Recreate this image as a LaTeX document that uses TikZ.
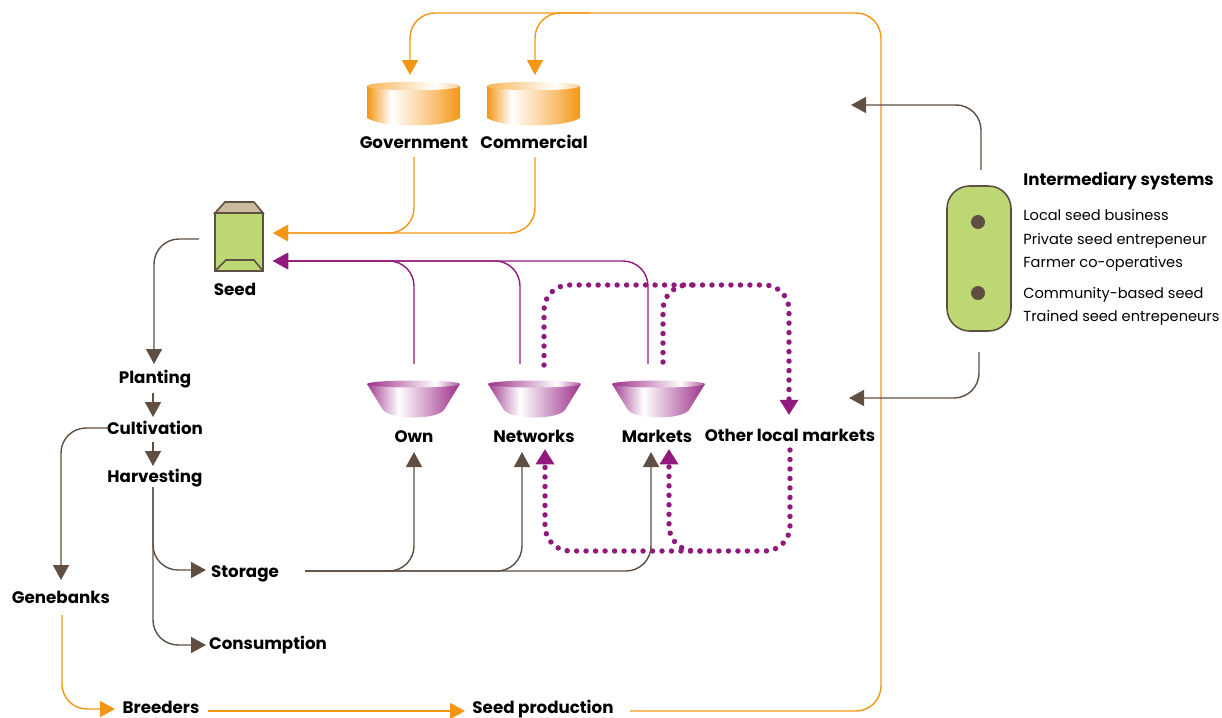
\documentclass[tikz,border=0pt]{standalone}
\usepackage{fontspec}
\setmainfont{Poppins}
\usetikzlibrary{arrows.meta}
\definecolor{canorange}{RGB}{244,150,20}
\definecolor{seedpurple}{RGB}{145,25,125}
\definecolor{soilbrown}{RGB}{95,78,66}
\definecolor{packgreen}{RGB}{189,215,116}
\definecolor{flaptan}{RGB}{203,186,155}
\pgfdeclarehorizontalshading{canshade}{100bp}{color(0bp)=(canorange); color(25bp)=(canorange); color(38bp)=(white); color(60bp)=(canorange!55); color(75bp)=(canorange); color(100bp)=(canorange)}
\pgfdeclarehorizontalshading{canlid}{100bp}{color(0bp)=(canorange!70); color(25bp)=(canorange!70); color(62bp)=(white); color(75bp)=(canorange!45); color(100bp)=(canorange!45)}
\pgfdeclarehorizontalshading{bowlshade}{100bp}{color(0bp)=(seedpurple!85); color(25bp)=(seedpurple!85); color(42bp)=(white); color(75bp)=(seedpurple!90); color(100bp)=(seedpurple!90)}
\pgfdeclarehorizontalshading{bowllid}{100bp}{color(0bp)=(seedpurple!90); color(25bp)=(seedpurple!90); color(62bp)=(white); color(75bp)=(seedpurple!75); color(100bp)=(seedpurple!75)}
\tikzset{
  flowline/.style={line width=.8pt, rounded corners=.5cm, -{Triangle[length=.3cm,width=.32cm]}},
  orangeline/.style={flowline, draw=canorange},
  purpleline/.style={flowline, draw=seedpurple},
  brownline/.style={flowline, draw=soilbrown},
  dotline/.style={flowline, draw=seedpurple, line width=3.1pt, line cap=round,
    dash pattern=on 0pt off 5.4pt, -{Triangle[length=.3cm,width=.38cm,line width=0pt,sep=-1pt]}},
  place/.style={inner sep=0pt, text height=9.4pt, text depth=2.2pt, font=\bfseries\fontsize{9.5}{11}\selectfont, text=black},
  plain/.style={inner sep=0pt, anchor=west, text height=9pt, text depth=2.2pt, font=\fontsize{8.3}{10}\selectfont, text=black},
  dot/.style={circle, fill=soilbrown, minimum size=.28cm, inner sep=0pt}
}
\newcommand{\seedcan}[1]{
  \begin{scope}[shift={(#1,0)}]
    \shade[shading=canshade] (0,86) -- (0,118) .. controls (15,128) and (78,128) .. (93,118) -- (93,86) -- cycle;
    \shade[shading=canlid] (46.5,86) ellipse [x radius=.93cm, y radius=.085cm];
  \end{scope}
}
\newcommand{\seedbowl}[1]{
  \begin{scope}[shift={(#1,0)}]
    \shade[shading=bowlshade] (0,384) -- (16,410) .. controls (24,420) and (69,420) .. (77,410) -- (93,384) -- cycle;
    \shade[shading=bowllid] (46.5,384) ellipse [x radius=.93cm, y radius=.07cm];
  \end{scope}
}
\begin{document}
\begin{tikzpicture}[x=.02cm, y=-.02cm]
    \useasboundingbox (0,0) rectangle (1222,717);

    % stores and bowls
    \seedcan{367}
    \seedcan{487}
    \seedbowl{367}
    \seedbowl{488}
    \seedbowl{612}

    % seed packet
    \draw[soilbrown, line width=.9pt, fill=packgreen] (215,213) rectangle (263,271);
    \draw[soilbrown, line width=.9pt, fill=flaptan] (215,213) -- (225,202) -- (254,202) -- (263,213) -- cycle;
    \draw[soilbrown, line width=.9pt] (215,271) -- (226,260) -- (254,260) -- (263,271);
    \node[inner sep=0pt, minimum width=.96cm, minimum height=1.38cm] (packet) at (239,236.5) {};

    % labels
    \node[place] (government) at (414,142) {Government};
    \node[place] (commercial) at (534,142) {Commercial};
    \node[place] (seed) at (235,289) {Seed};
    \node[place] (planting) at (155,377) {Planting};
    \node[place] (cultivation) at (155,428) {Cultivation};
    \node[place] (harvesting) at (155,476) {Harvesting};
    \node[place] (storage) at (245,571) {Storage};
    \node[place] (consumption) at (268,643) {Consumption};
    \node[place] (genebanks) at (61,597) {Genebanks};
    \node[place] (breeders) at (161,707) {Breeders};
    \node[place] (production) at (543,707) {Seed production};
    \node[place] (own) at (414,436) {Own};
    \node[place] (networks) at (534,436) {Networks};
    \node[place] (markets) at (657,436) {Markets};
    \node[place] (otherlocal) at (790,435) {Other local markets};

    % intermediary box
    \node[draw=soilbrown, line width=.9pt, fill=packgreen, rounded corners=.45cm,
          minimum width=1.28cm, minimum height=2.9cm, inner sep=0pt] (intermediary) at (979,258.5) {};
    \node[dot] (dotone) at (978,222) {};
    \node[dot] (dottwo) at (978,293) {};
    \node[place, anchor=west] (systems) at (1023,179) {Intermediary systems};
    \node[plain] (business) at (1023,215) {Local seed business};
    \node[plain] (private) at (1023,239) {Private seed entrepeneur};
    \node[plain] (farmer) at (1023,262) {Farmer co-operatives};
    \node[plain] (community) at (1023,293) {Community-based seed};
    \node[plain] (trained) at (1023,316) {Trained seed entrepeneurs};

    % line ends
    \coordinate (prodout) at (630,711);
    \coordinate (topright) at (881,13);
    \coordinate (govin) at (410,75);
    \coordinate (comfork) at (590,13);
    \coordinate (comin) at (535,75);
    \coordinate (govout) at (414,157);
    \coordinate (comout) at (535,157);
    \coordinate (packorange) at (273,233);
    \coordinate (packpurple) at (273,261);
    \coordinate (ownout) at (414,364);
    \coordinate (netout) at (520,364);
    \coordinate (markout) at (648,364);
    \coordinate (ownin) at (414,452);
    \coordinate (netin) at (522,452);
    \coordinate (markin) at (651,452);
    \coordinate (storeout) at (305,571);
    \coordinate (dotnetout) at (544,365);
    \coordinate (dotmarkout) at (663,362);
    \coordinate (dottop) at (789,285);
    \coordinate (dotfork) at (700,285);
    \coordinate (otherin) at (789,413);
    \coordinate (otherout) at (790,450);
    \coordinate (dotlow) at (790,551);
    \coordinate (dotlowfork) at (700,551);
    \coordinate (dotnetin) at (545,451);
    \coordinate (dotmarkin) at (669,451);
    \coordinate (packout) at (199,239);
    \coordinate (plantin) at (154,364);
    \coordinate (plantout) at (153,393);
    \coordinate (cultin) at (153,417);
    \coordinate (cultout) at (153,442);
    \coordinate (harvin) at (153,466);
    \coordinate (harvout) at (153,487);
    \coordinate (storein) at (206,570);
    \coordinate (consin) at (206,645);
    \coordinate (geneout) at (108,428);
    \coordinate (genein) at (61,580);
    \coordinate (bankout) at (62,615);
    \coordinate (breedin) at (115,709);
    \coordinate (breedout) at (208,711);
    \coordinate (prodin) at (465,711);
    \coordinate (boxup) at (981,170);
    \coordinate (boxupin) at (851,105);
    \coordinate (boxdown) at (979,352);
    \coordinate (boxdownin) at (849,398);

    % orange flow
    \draw[orangeline] (prodout) -| (topright) -| (govin);
    \draw[orangeline] (comfork) -| (comin);
    \draw[orangeline] (govout) |- (packorange);
    \draw[orangeline] (comout) |- (packorange);
    \draw[orangeline] (bankout) |- (breedin);
    \draw[orangeline] (breedout) -- (prodin);

    % purple flow
    \draw[purpleline] (ownout) |- (packpurple);
    \draw[purpleline] (netout) |- (packpurple);
    \draw[purpleline] (markout) |- (packpurple);
    \draw[dotline] (dotnetout) |- (dottop) -- (otherin);
    \draw[dotline, -] (dotmarkout) |- (dotfork);
    \draw[dotline] (otherout) |- (dotnetin |- dotlow) -- (dotnetin);
    \draw[dotline] (dotlowfork) -| (dotmarkin);

    % brown flow
    \draw[brownline] (storeout) -| (ownin);
    \draw[brownline] (storeout) -| (netin);
    \draw[brownline] (storeout) -| (markin);
    \draw[brownline] (packout) -| (plantin);
    \draw[brownline] (plantout) -- (cultin);
    \draw[brownline] (cultout) -- (harvin);
    \draw[brownline] (geneout) -| (genein);
    \draw[brownline] (harvout) |- (storein);
    \draw[brownline] (harvout) |- (consin);
    \draw[brownline] (boxup) |- (boxupin);
    \draw[brownline] (boxdown) |- (boxdownin);
\end{tikzpicture}
\end{document}
